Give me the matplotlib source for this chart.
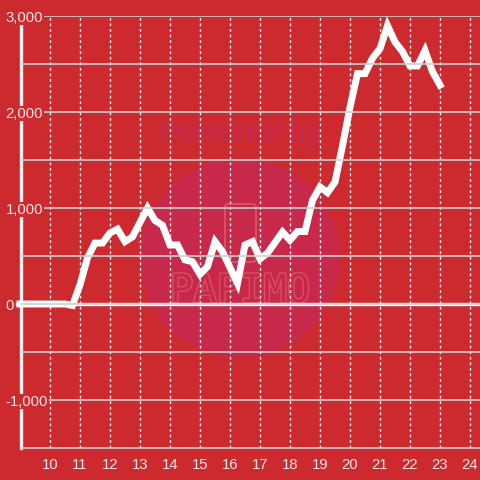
import matplotlib
matplotlib.use("Agg")
import matplotlib.pyplot as plt
import matplotlib.patheffects as pe
from matplotlib.patches import Circle, FancyBboxPatch
from matplotlib.ticker import FuncFormatter

# quarter-hour readings
hours = [9.0, 9.25, 9.5, 9.75, 10.0, 10.25, 10.5, 10.75,
         11.0, 11.25, 11.5, 11.75, 12.0, 12.25, 12.5, 12.75,
         13.0, 13.25, 13.5, 13.75, 14.0, 14.25, 14.5, 14.75,
         15.0, 15.25, 15.5, 15.75, 16.0, 16.25, 16.5, 16.75,
         17.0, 17.25, 17.5, 17.75, 18.0, 18.25, 18.5, 18.75,
         19.0, 19.25, 19.5, 19.75, 20.0, 20.25, 20.5, 20.75,
         21.0, 21.25, 21.5, 21.75, 22.0, 22.25, 22.5, 22.75,
         23.0]
values = [0, 0, 0, 0, 0, 0, 0, -15,
          200, 480, 635, 635, 740, 780, 650, 700,
          850, 1000, 870, 820, 615, 615, 460, 440,
          310, 390, 650, 545, 380, 215, 615, 650,
          470, 530, 640, 750, 665, 755, 755, 1080,
          1220, 1160, 1270, 1650, 2050, 2400, 2400, 2560,
          2660, 2900, 2730, 2630, 2480, 2480, 2640, 2420,
          2280]

x_ticks = list(range(10, 25))
y_ticks = [-1000, 0, 1000, 2000, 3000]
y_grid = [-500, 500, 1500, 2500]

bg = "#cc2a2f"
light = "#f6e6e6"

plt.rcParams["font.family"] = ["Liberation Sans", "DejaVu Sans"]

fig = plt.figure(figsize=(4.8, 4.8), dpi=100, facecolor=bg)
ax = fig.add_axes([21 / 480, 32 / 480, 459 / 480, 432 / 480])
ax.patch.set_visible(False)

# watermark behind everything
fig.add_artist(Circle((240 / 480, 1 - 258 / 480), 100 / 480, transform=fig.transFigure,
                      color="#c8284a", zorder=-2, lw=0))
fig.text(241 / 480, 1 - 133 / 480, "Powered by", ha="center", va="center",
         fontsize=21, fontweight="bold", fontstyle="italic", color="#c6284a", zorder=-1)
fig.text(240 / 480, 1 - 291 / 480, "PAPIMO", ha="center", va="center",
         family="DejaVu Sans Mono", fontsize=28, color="#c8284a", zorder=-1,
         path_effects=[pe.withStroke(linewidth=2, foreground="#d6525e")])
fig.add_artist(FancyBboxPatch((225 / 480, 1 - 262 / 480), 31 / 480, 58 / 480,
                              boxstyle="round,pad=0,rounding_size=0.008",
                              transform=fig.transFigure, fill=False,
                              ec="#d6525e", lw=1.5, zorder=-1))

ax.set_xlim(9 + 1 / 30, 24 + 1 / 3)
ax.set_ylim(-1500, 3000)

for s in ["top", "right"]:
    ax.spines[s].set_visible(False)
ax.spines["left"].set_color("#f4f0f0")
ax.spines["left"].set_linewidth(2.4)
ax.spines["left"].set_zorder(2)
ax.spines["bottom"].set_color("#cfcfcf")
ax.spines["bottom"].set_linewidth(1.2)

ax.set_xticks(x_ticks)
ax.set_yticks(y_ticks)
ax.set_yticks(y_grid, minor=True)
ax.yaxis.set_major_formatter(FuncFormatter(lambda v, p: f"{int(v):,}"))
ax.tick_params(axis="both", which="both", length=0, colors=light, labelsize=10.7)
ax.tick_params(axis="x", pad=7)
ax.tick_params(axis="y", pad=11)
for lab in ax.get_yticklabels():
    lab.set_horizontalalignment("left")
    lab.set_bbox(dict(facecolor=bg, edgecolor="none", pad=0.5))
ax.yaxis.set_zorder(4)

ax.grid(axis="y", which="both", color="#cfcfcf", lw=1.2, zorder=1)
ax.grid(axis="x", which="major", color="#eeeeee", lw=1, linestyle=(0, (2, 2)), zorder=1)

ax.axhline(0, xmin=-4 / 459, color="white", lw=2.4, zorder=3, clip_on=False)
ax.plot(hours, values, color="white", lw=5, solid_joinstyle="miter",
        solid_capstyle="projecting", zorder=3, clip_on=False)

fig.savefig("out.png", dpi=100, facecolor=bg)
